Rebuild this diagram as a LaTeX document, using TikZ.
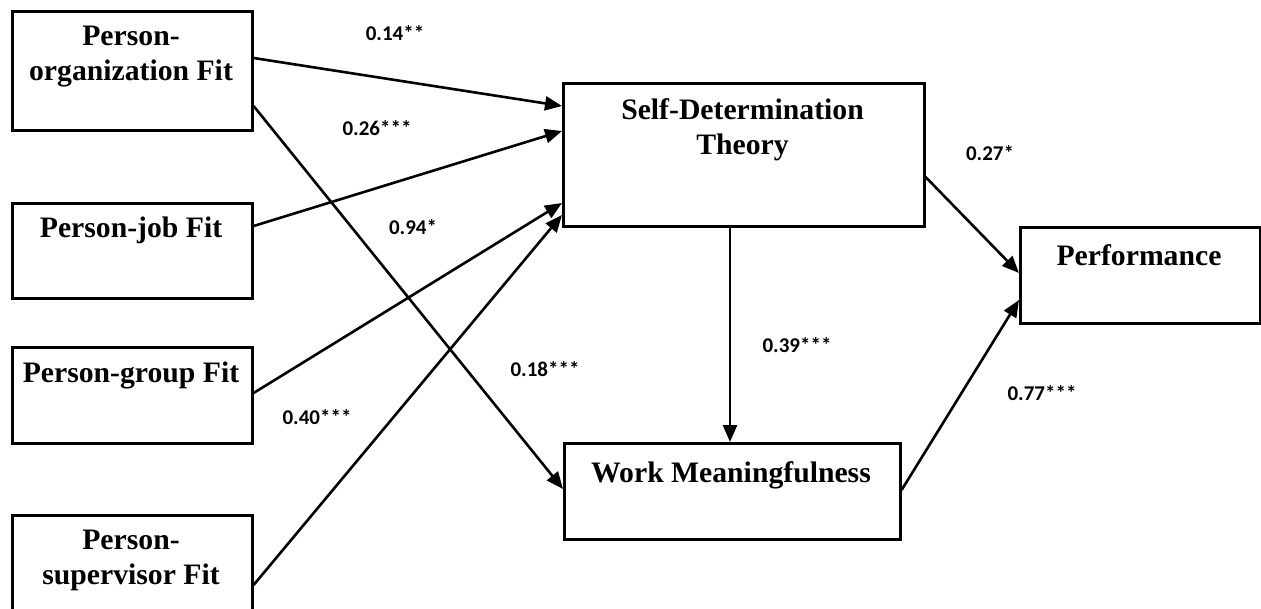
\documentclass[tikz,border=0pt]{standalone}
\usepackage{fontspec}
\setmainfont{Liberation Serif}
\newfontfamily\lblfont{Carlito}
\usetikzlibrary{arrows.meta,calc}
\tikzset{
  box/.style={draw=black, line width=2.6pt, rectangle, inner sep=0pt, anchor=north west},
  boxtext/.style={inner sep=0pt, align=center, font=\bfseries\fontsize{29.7}{35}\selectfont},
  coef/.style={inner sep=0pt, font=\lblfont\bfseries\fontsize{21}{24}\selectfont},
  arr/.style={line width=2.6pt, -{Triangle[length=17pt,width=14pt]}}
}
\begin{document}
\begin{tikzpicture}[x=1pt,y=-1pt]
\useasboundingbox (0,0) rectangle (1261,608);
\fill[white] (0,0) rectangle (1261,608);
\begin{scope}
\clip (0,0) rectangle (1261,608);
% boxes
\node[box, minimum width=240pt, minimum height=119pt] (po) at (11,10) {};
\node[box, minimum width=240pt, minimum height=95pt] (pj) at (11,202) {};
\node[box, minimum width=240pt, minimum height=96pt] (pg) at (11,346) {};
\node[box, minimum width=240pt, minimum height=110pt] (ps) at (11,514) {};
\node[box, minimum width=361pt, minimum height=143pt] (sdt) at (562,82) {};
\node[box, minimum width=336pt, minimum height=96pt] (wm) at (563,442) {};
\node[box, minimum width=240pt, minimum height=96pt] (perf) at (1019,226) {};
\end{scope}
% box texts
\node[boxtext] (tpo) at (131,57) {Person-\\organization Fit};
\node[boxtext] (tpj) at (131,230) {Person-job Fit};
\node[boxtext] (tpg) at (131,375) {Person-group Fit};
\node[boxtext] (tps) at (131,560) {Person-\\supervisor Fit};
\node[boxtext] (tsdt) at (742.5,130) {Self-Determination\\Theory};
\node[boxtext] (twm) at (731,475) {Work Meaningfulness};
\node[boxtext] (tperf) at (1139,255) {Performance};
% connectors
\draw[arr] ($(po.north east)+(0,48)$) -- ($(sdt.north west)+(0,24)$);
\draw[arr] ($(pj.north east)+(0,24)$) -- ($(sdt.north west)+(0,49)$);
\draw[arr] ($(pg.north east)+(0,47)$) -- ($(sdt.north west)+(0,121)$);
\draw[arr] ($(ps.north east)+(0,71)$) -- ($(sdt.north west)+(0,133)$);
\draw[arr] ($(po.north east)+(0,96)$) -- ($(wm.north west)+(0,47)$);
\draw[arr] ($(sdt.south west)+(168,0)$) -- ($(wm.north west)+(167,0)$);
\draw[arr] ($(sdt.north east)+(0,95)$) -- ($(perf.north west)+(0,47)$);
\draw[arr] ($(wm.north east)+(0,48)$) -- ($(perf.north west)+(0,74)$);
% coefficients
\node[coef] (c1) at (395,33) {0.14**};
\node[coef] (c2) at (377,128) {0.26***};
\node[coef] (c3) at (413,227) {0.94*};
\node[coef] (c4) at (545,369) {0.18***};
\node[coef] (c5) at (317,417) {0.40***};
\node[coef] (c6) at (797,345) {0.39***};
\node[coef] (c7) at (990,153) {0.27*};
\node[coef] (c8) at (1042,393) {0.77***};
\end{tikzpicture}
\end{document}
